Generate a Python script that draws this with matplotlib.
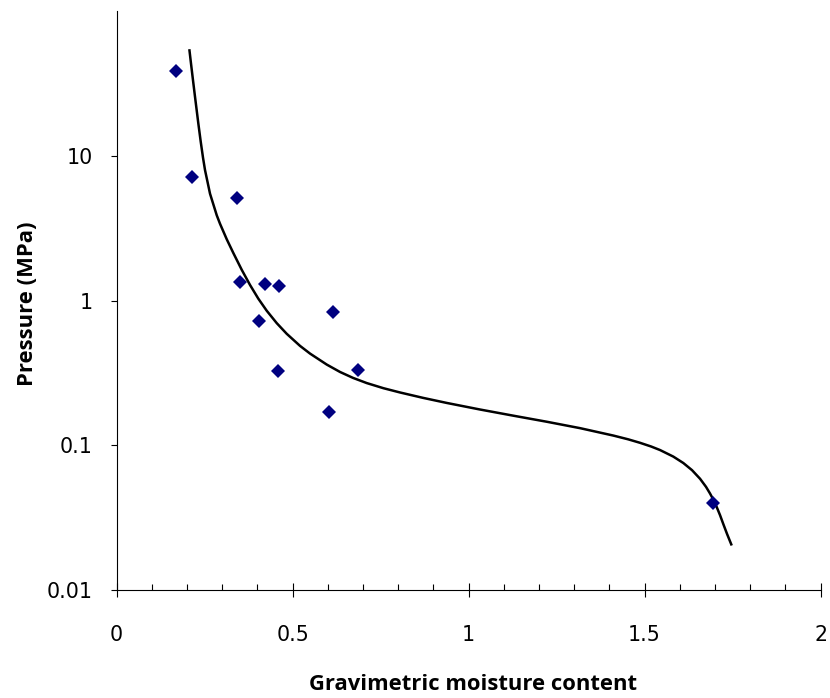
import matplotlib
matplotlib.use("Agg")
import matplotlib.pyplot as plt
from matplotlib.ticker import FixedLocator, MultipleLocator, FixedFormatter, NullLocator

# measured points
moisture = [0.169, 0.215, 0.342, 0.352, 0.422, 0.461, 0.404, 0.614, 0.458, 0.685, 0.604, 1.695]
pressure = [38.8, 7.18, 5.14, 1.34, 1.30, 1.25, 0.72, 0.83, 0.328, 0.330, 0.170, 0.040]

# fitted retention curve
fit_moisture = [0.2068, 0.2116, 0.2165, 0.2230, 0.2324, 0.2392, 0.2457, 0.2514, 0.2656, 0.2847,
                0.2940, 0.3131, 0.3318, 0.3557, 0.3793, 0.4028, 0.4267, 0.4551, 0.4835, 0.5213,
                0.5497, 0.5972, 0.6349, 0.6719, 0.7108, 0.7580, 0.8054, 0.8707, 0.9381, 1.0327,
                1.1273, 1.2222, 1.3168, 1.4114, 1.4531, 1.4872, 1.5185, 1.5440, 1.5818, 1.6102,
                1.6349, 1.6577, 1.6747, 1.6861, 1.6955, 1.7051, 1.7145, 1.7239, 1.7344, 1.7477]
fit_pressure = [54.5, 43.3, 34.4, 25.5, 16.7, 12.5, 9.69, 7.96, 5.47, 3.88,
                3.39, 2.65, 2.13, 1.63, 1.28, 1.03, 0.850, 0.698, 0.589, 0.486,
                0.430, 0.361, 0.321, 0.292, 0.269, 0.248, 0.2316, 0.2126, 0.1961, 0.1766,
                0.1601, 0.1454, 0.1313, 0.1167, 0.1100, 0.1040, 0.0981, 0.0927, 0.0835, 0.0754,
                0.0673, 0.0587, 0.0516, 0.0464, 0.0421, 0.0374, 0.0329, 0.0285, 0.0244, 0.0203]

x_ticks = [0, 0.5, 1, 1.5, 2]
x_labels = ["0", "0.5", "1", "1.5", "2"]
y_ticks = [0.01, 0.1, 1, 10]
y_labels = ["0.01", "0.1", "1", "10"]

fig = plt.figure(figsize=(8.30, 6.98), dpi=100)
ax = fig.add_axes([0.1404, 0.1547, 0.8482, 0.8295])

ax.plot(fit_moisture, fit_pressure, color="black", lw=1.8, zorder=2,
        solid_joinstyle="round", solid_capstyle="butt")
ax.plot(moisture, pressure, linestyle="none", marker="D", markersize=7.2,
        color="#000080", markeredgewidth=0, zorder=3)

ax.set_yscale("log")
ax.set_xlim(0, 2)
ax.set_ylim(0.01, 100)

ax.xaxis.set_major_locator(FixedLocator(x_ticks))
ax.xaxis.set_major_formatter(FixedFormatter(x_labels))
ax.xaxis.set_minor_locator(MultipleLocator(0.1))
ax.yaxis.set_major_locator(FixedLocator(y_ticks))
ax.yaxis.set_major_formatter(FixedFormatter(y_labels))
ax.yaxis.set_minor_locator(NullLocator())

for side in ("top", "right"):
    ax.spines[side].set_visible(False)
for side in ("left", "bottom"):
    ax.spines[side].set_linewidth(0.8)

ax.tick_params(axis="x", which="major", direction="inout", length=10, width=0.8,
               pad=20, labelsize=14.8)
ax.tick_params(axis="x", which="minor", direction="in", length=4.3, width=0.8)
ax.tick_params(axis="y", which="major", direction="out", length=4.3, width=0.8,
               pad=13, labelsize=14.8)

label_font = dict(family=["Open Sans", "DejaVu Sans"], fontsize=15.8, fontweight="bold")
ax.set_xlabel("Gravimetric moisture content", **label_font)
ax.set_ylabel("Pressure (MPa)", **label_font)
ax.xaxis.set_label_coords(0.506, -0.145)
ax.yaxis.set_label_coords(-0.112, 0.494)

fig.savefig("out.png", dpi=100)
